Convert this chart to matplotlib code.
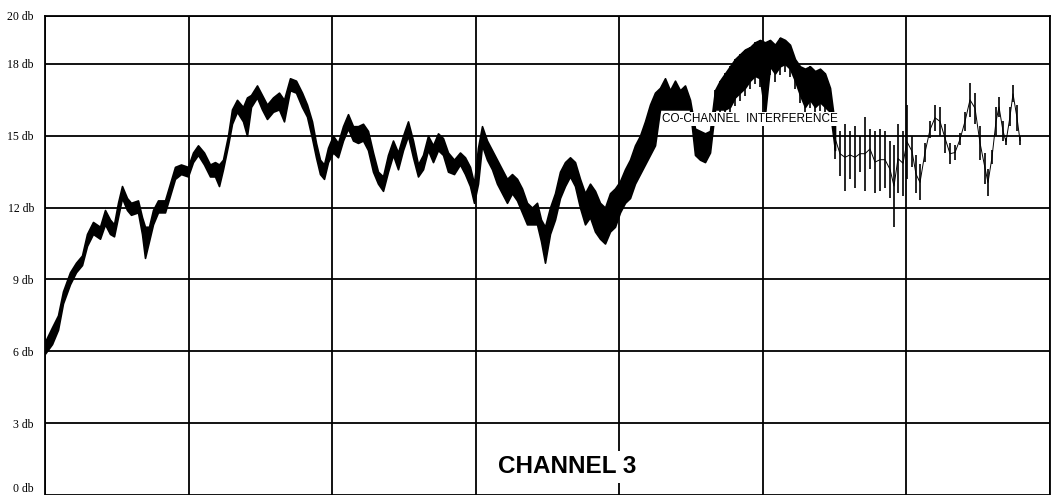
#!/usr/bin/env python

# Signal strength recording, channel 3 (scanned strip chart)

import numpy as np
import matplotlib
matplotlib.use('Agg')
import matplotlib.pyplot as plt

# sweep position (arbitrary chart units, 7 divisions across)
sweep = [0, 7, 13, 18, 25, 31, 37, 42, 48, 55, 60, 65, 69, 73, 77, 82, 86, 93, 97, 100,
         104, 108, 113, 120, 125, 130, 136, 143, 148, 153, 159, 165, 170, 174, 178, 183, 187, 192, 198, 202,
         206, 212, 217, 222, 228, 234, 239, 245, 251, 257, 262, 267, 271, 275, 279, 283, 288, 293, 298, 303,
         308, 313, 318, 323, 328, 333, 338, 343, 348, 353, 358, 363, 368, 373, 378, 383, 388, 393, 398, 403,
         409, 415, 420, 425, 429, 433, 437, 442, 447, 452, 457, 462, 467, 472, 477, 482, 487, 492, 496, 500,
         505, 510, 515, 520, 525, 530, 535, 540, 545, 550, 555, 560, 565, 570, 575, 580, 585, 590, 595, 600,
         605, 610, 615, 620, 625, 630, 635, 640, 645, 650, 655, 660, 665, 670, 675, 680, 685, 690, 695, 700,
         705, 710, 715, 720, 725, 730, 735, 740, 745, 750, 755, 760, 765, 770, 775, 780, 785, 790, 795, 800,
         805, 810, 815, 820, 825, 830, 835, 840, 845, 849, 853, 858, 862, 867, 871, 875, 880, 885, 890, 895,
         900, 905, 910, 915, 920, 925, 930, 935, 940, 943, 947, 951, 954, 958, 961, 965, 968, 972, 975]

# upper edge of the trace (db)
db_hi = [6.4, 7.0, 7.5, 8.5, 9.3, 9.7, 10.0, 10.9, 11.4, 11.2, 11.9, 11.5, 11.3, 12.2, 12.9, 12.4, 12.2, 12.3, 11.6, 11.2,
         11.2, 11.9, 12.3, 12.3, 13.0, 13.7, 13.8, 13.7, 14.3, 14.6, 14.3, 13.8, 13.9, 13.8, 14.0, 15.0, 16.1, 16.5, 16.2, 16.6,
         16.7, 17.1, 16.7, 16.3, 16.6, 16.8, 16.5, 17.4, 17.3, 16.8, 16.3, 15.6, 14.7, 14.0, 13.8, 14.5, 15.0, 14.7, 15.4, 15.9,
         15.4, 15.4, 15.5, 15.2, 14.3, 13.5, 13.3, 14.2, 14.8, 14.3, 15.0, 15.6, 14.8, 13.8, 14.2, 15.0, 14.6, 15.1, 14.9, 14.3,
         14.0, 14.3, 14.1, 13.7, 13.0, 14.5, 15.4, 14.8, 14.4, 14.0, 13.6, 13.2, 13.4, 13.2, 12.8, 12.2, 12.0, 12.2, 11.5, 11.2,
         12.0, 12.6, 13.5, 13.9, 14.1, 13.9, 13.2, 12.6, 13.0, 12.7, 12.2, 12.0, 12.6, 12.8, 13.1, 13.6, 14.0, 14.6, 15.0, 15.6,
         16.3, 16.8, 17.0, 17.4, 16.9, 17.3, 16.9, 17.1, 16.5, 15.3, 15.2, 15.1, 15.2, 16.9, 17.3, 17.6, 17.9, 18.2, 18.4, 18.6,
         18.7, 18.9, 19.0, 18.9, 19.0, 18.8, 19.1, 19.0, 18.8, 18.2, 17.9, 17.8, 17.9, 17.7, 17.8, 17.6, 17.0, 15.4, 15.2, 15.5,
         15.2, 15.4, 15.0, 15.8, 15.3, 15.2, 15.3, 15.2, 14.8, 14.6, 15.5, 15.2, 16.3, 15.0, 14.2, 13.8, 14.7, 15.6, 16.3, 16.2,
         15.5, 14.7, 14.6, 15.1, 16.0, 17.2, 16.8, 15.4, 14.3, 13.6, 14.4, 16.2, 16.6, 15.6, 14.9, 16.2, 17.1, 16.3, 15.0]

# lower edge of the trace (db)
db_lo = [5.9, 6.3, 6.9, 8.0, 8.8, 9.3, 9.6, 10.4, 10.9, 10.7, 11.3, 10.9, 10.8, 11.6, 12.4, 11.9, 11.7, 11.8, 10.9, 9.9,
         10.6, 11.3, 11.8, 11.8, 12.5, 13.2, 13.4, 13.3, 13.9, 14.2, 13.8, 13.3, 13.3, 12.9, 13.6, 14.6, 15.5, 16.0, 15.6, 15.0,
         16.2, 16.6, 16.1, 15.7, 16.0, 16.1, 15.6, 16.9, 16.8, 16.2, 15.8, 14.9, 14.1, 13.4, 13.2, 13.9, 14.3, 14.1, 14.8, 15.3,
         14.8, 14.7, 14.8, 14.4, 13.5, 13.0, 12.7, 13.5, 14.2, 13.6, 14.4, 15.0, 14.1, 13.3, 13.6, 14.4, 13.9, 14.4, 14.2, 13.5,
         13.4, 13.8, 13.4, 12.9, 12.2, 13.0, 14.6, 14.0, 13.6, 13.0, 12.6, 12.2, 12.6, 12.3, 11.8, 11.3, 11.3, 11.3, 10.6, 9.7,
         10.9, 11.5, 12.4, 12.9, 13.3, 12.9, 12.0, 11.3, 11.6, 11.0, 10.7, 10.5, 11.0, 11.2, 11.8, 12.2, 12.4, 13.0, 13.4, 13.8,
         14.2, 14.6, 16.1, 16.1, 16.1, 16.1, 16.1, 16.1, 16.1, 14.2, 14.0, 13.9, 14.3, 16.1, 16.1, 16.1, 16.2, 16.6, 16.8, 17.0,
         17.3, 17.5, 17.4, 15.9, 17.9, 17.6, 17.9, 18.0, 17.8, 17.3, 16.7, 16.2, 16.5, 16.2, 16.4, 16.2, 16.0, 14.4, 13.3, 12.7,
         13.2, 12.8, 13.5, 12.7, 13.6, 12.6, 12.7, 12.8, 12.4, 11.2, 12.6, 12.5, 13.2, 13.7, 12.6, 12.3, 13.9, 14.9, 15.2, 15.0,
         14.3, 13.8, 14.0, 14.6, 15.2, 15.8, 15.5, 14.0, 13.0, 12.5, 13.8, 15.0, 15.8, 14.8, 14.6, 15.4, 16.4, 15.2, 14.6]

db_ticks = [0, 3, 6, 9, 12, 15, 18, 20]
db_labels = ['0 db', '3 db', '6 db', '9 db', '12 db', '15 db', '18 db', '20 db']
n_div = 7
x_span = 1005


def main():
    x = np.array(sweep, dtype=float)
    hi = np.array(db_hi)
    lo = np.array(db_lo)

    fig = plt.figure(figsize=(10.52, 4.95), dpi=100)
    ax = fig.add_axes([45 / 1052, 0.0, 1005 / 1052, 479 / 495])
    ax.set_xlim(0, x_span)
    ax.set_ylim(0, 20)

    # grid
    ax.set_xticks(np.linspace(0, x_span, n_div + 1))
    ax.set_xticklabels([])
    ax.set_yticks(db_ticks)
    ax.set_yticklabels(db_labels, family='Liberation Serif', fontsize=8.5)
    ax.tick_params(length=0, pad=8)
    ax.grid(True, color='black', linewidth=1.3)
    ax.spines['bottom'].set_visible(False)
    for s in ['left', 'top', 'right']:
        ax.spines[s].set_linewidth(1.3)
    ax.yaxis.get_majorticklabels()[0].set_va('bottom')

    # dense part of the trace
    dense = x <= 790
    ax.fill_between(x[dense], lo[dense], hi[dense], color='black', linewidth=1.2,
                    edgecolor='black', zorder=3)
    # striations in the interference bump
    band = (x >= 670) & (x <= 790)
    ax.vlines(x[band], lo[band] - 0.35, hi[band], color='black', linewidth=1.2, zorder=3)

    # sparse (interference) part drawn as vertical strokes
    sparse = x >= 785
    ax.vlines(x[sparse], lo[sparse], hi[sparse], color='black', linewidth=1.2, zorder=3)
    ax.plot(x[sparse], (hi[sparse] + lo[sparse]) / 2, color='black', linewidth=0.7, zorder=3)

    ax.text(705, 15.7, 'CO-CHANNEL  INTERFERENCE', fontsize=8.5, family='Liberation Sans',
            ha='center', va='center', zorder=5,
            bbox=dict(facecolor='white', edgecolor='none', pad=1))
    ax.text(522, 1.17, 'CHANNEL 3', fontsize=17.5, fontweight='bold', family='Liberation Sans',
            ha='center', va='center', zorder=5,
            bbox=dict(facecolor='white', edgecolor='none', pad=3))

    fig.savefig('out.png', dpi=100, facecolor='white')


if __name__ == '__main__':
    main()
